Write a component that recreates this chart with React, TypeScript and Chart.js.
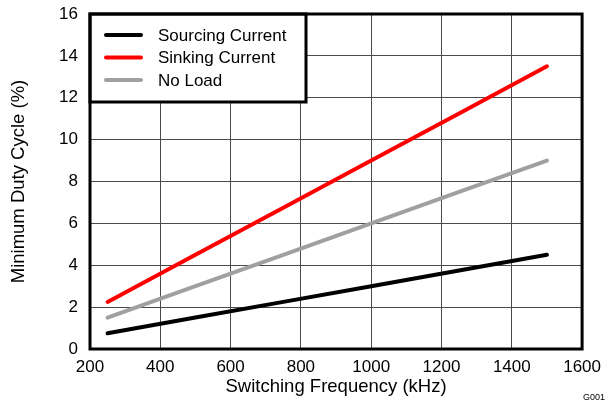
import React, { useEffect, useRef } from "react";
import { Chart, registerables } from "chart.js";

Chart.register(...registerables);

// Switching frequency (kHz) and minimum duty cycle (%) for each load condition
const frequency = [250, 500, 750, 1000, 1250, 1500];
const sourcingCurrent = [0.75, 1.5, 2.25, 3.0, 3.75, 4.5];
const sinkingCurrent = [2.25, 4.5, 6.75, 9.0, 11.25, 13.5];
const noLoad = [1.5, 3.0, 4.5, 6.0, 7.5, 9.0];

const seriesLabels = ["Sourcing Current", "Sinking Current", "No Load"];
const seriesColors = ["#000000", "#ff0000", "#a0a0a0"];

const xTitle = "Switching Frequency (kHz)";
const yTitle = "Minimum Duty Cycle (%)";
const figureId = "G001";

const FONT = "'Liberation Sans', Arial, sans-serif";

const toPoints = (ys: number[]) => frequency.map((x, i) => ({ x, y: ys[i] }));

// Thick frame around the plot area, boxed legend in the top-left corner and the figure id
const framePlugin = {
  id: "frameAndLegend",
  afterDatasetsDraw(chart: any) {
    const { ctx, chartArea } = chart;
    const { left, top, right, bottom } = chartArea;
    ctx.save();

    // legend box
    const boxW = 216;
    const boxH = 88;
    ctx.fillStyle = "#ffffff";
    ctx.fillRect(left, top, boxW, boxH);
    ctx.strokeStyle = "#000000";
    ctx.lineWidth = 3;
    ctx.strokeRect(left, top, boxW, boxH);

    ctx.font = `17px ${FONT}`;
    ctx.textBaseline = "middle";
    ctx.textAlign = "left";
    chart.data.datasets.forEach((ds: any, i: number) => {
      const y = top + 21 + i * 22.5;
      ctx.strokeStyle = ds.borderColor;
      ctx.lineWidth = 4;
      ctx.lineCap = "round";
      ctx.beginPath();
      ctx.moveTo(left + 16, y);
      ctx.lineTo(left + 51, y);
      ctx.stroke();
      ctx.fillStyle = "#000000";
      ctx.fillText(ds.label, left + 68, y + 1);
    });

    // plot frame
    ctx.strokeStyle = "#000000";
    ctx.lineWidth = 3;
    ctx.lineCap = "butt";
    ctx.strokeRect(left, top, right - left, bottom - top);
    ctx.restore();
  },
  afterDraw(chart: any) {
    const { ctx } = chart;
    ctx.save();
    ctx.font = `9px ${FONT}`;
    ctx.fillStyle = "#000000";
    ctx.textAlign = "right";
    ctx.textBaseline = "middle";
    ctx.fillText(figureId, 605, 398);
    ctx.restore();
  },
};

export default function App() {
  const canvasRef = useRef<HTMLCanvasElement | null>(null);

  useEffect(() => {
    document.body.style.margin = "0";
    const canvas = canvasRef.current;
    if (!canvas) return;

    const values = [sourcingCurrent, sinkingCurrent, noLoad];
    const chart = new Chart(canvas, {
      type: "line",
      data: {
        datasets: values.map((ys, i) => ({
          label: seriesLabels[i],
          data: toPoints(ys),
          borderColor: seriesColors[i],
          backgroundColor: seriesColors[i],
          borderWidth: 4,
          borderCapStyle: "round",
          pointRadius: 0,
          tension: 0,
          fill: false,
        })),
      },
      options: {
        animation: false,
        responsive: false,
        devicePixelRatio: 1,
        layout: { padding: { top: 14, right: 25, left: 0, bottom: 0 } },
        plugins: {
          legend: { display: false },
          tooltip: { enabled: false },
        },
        scales: {
          x: {
            type: "linear",
            min: 200,
            max: 1600,
            ticks: {
              stepSize: 200,
              color: "#000000",
              font: { family: FONT, size: 17 },
              padding: 8,
              maxRotation: 0,
              callback: (v: any) => String(v),
            },
            grid: { color: "#4a4a4a", lineWidth: 1, drawTicks: false },
            border: { display: false },
            title: {
              display: true,
              text: xTitle,
              color: "#000000",
              font: { family: FONT, size: 18.5 },
              padding: { top: 0, bottom: 10 },
            },
            afterFit(scale: any) {
              scale.height = 59;
            },
          },
          y: {
            type: "linear",
            min: 0,
            max: 16,
            ticks: {
              stepSize: 2,
              color: "#000000",
              font: { family: FONT, size: 17 },
              padding: 12,
              callback: (v: any) => String(v),
            },
            grid: { color: "#4a4a4a", lineWidth: 1, drawTicks: false },
            border: { display: false },
            title: {
              display: true,
              text: yTitle,
              color: "#000000",
              font: { family: FONT, size: 18.5 },
              padding: { top: 8, bottom: 8 },
            },
            afterFit(scale: any) {
              scale.width = 90;
              scale.paddingTop = 0;
              scale.paddingBottom = 0;
            },
          },
        },
      },
      plugins: [framePlugin],
    } as any);

    return () => chart.destroy();
  }, []);

  return (
    <div style={{ width: 609, height: 408 }}>
      <canvas ref={canvasRef} width={609} height={408} />
    </div>
  );
}
